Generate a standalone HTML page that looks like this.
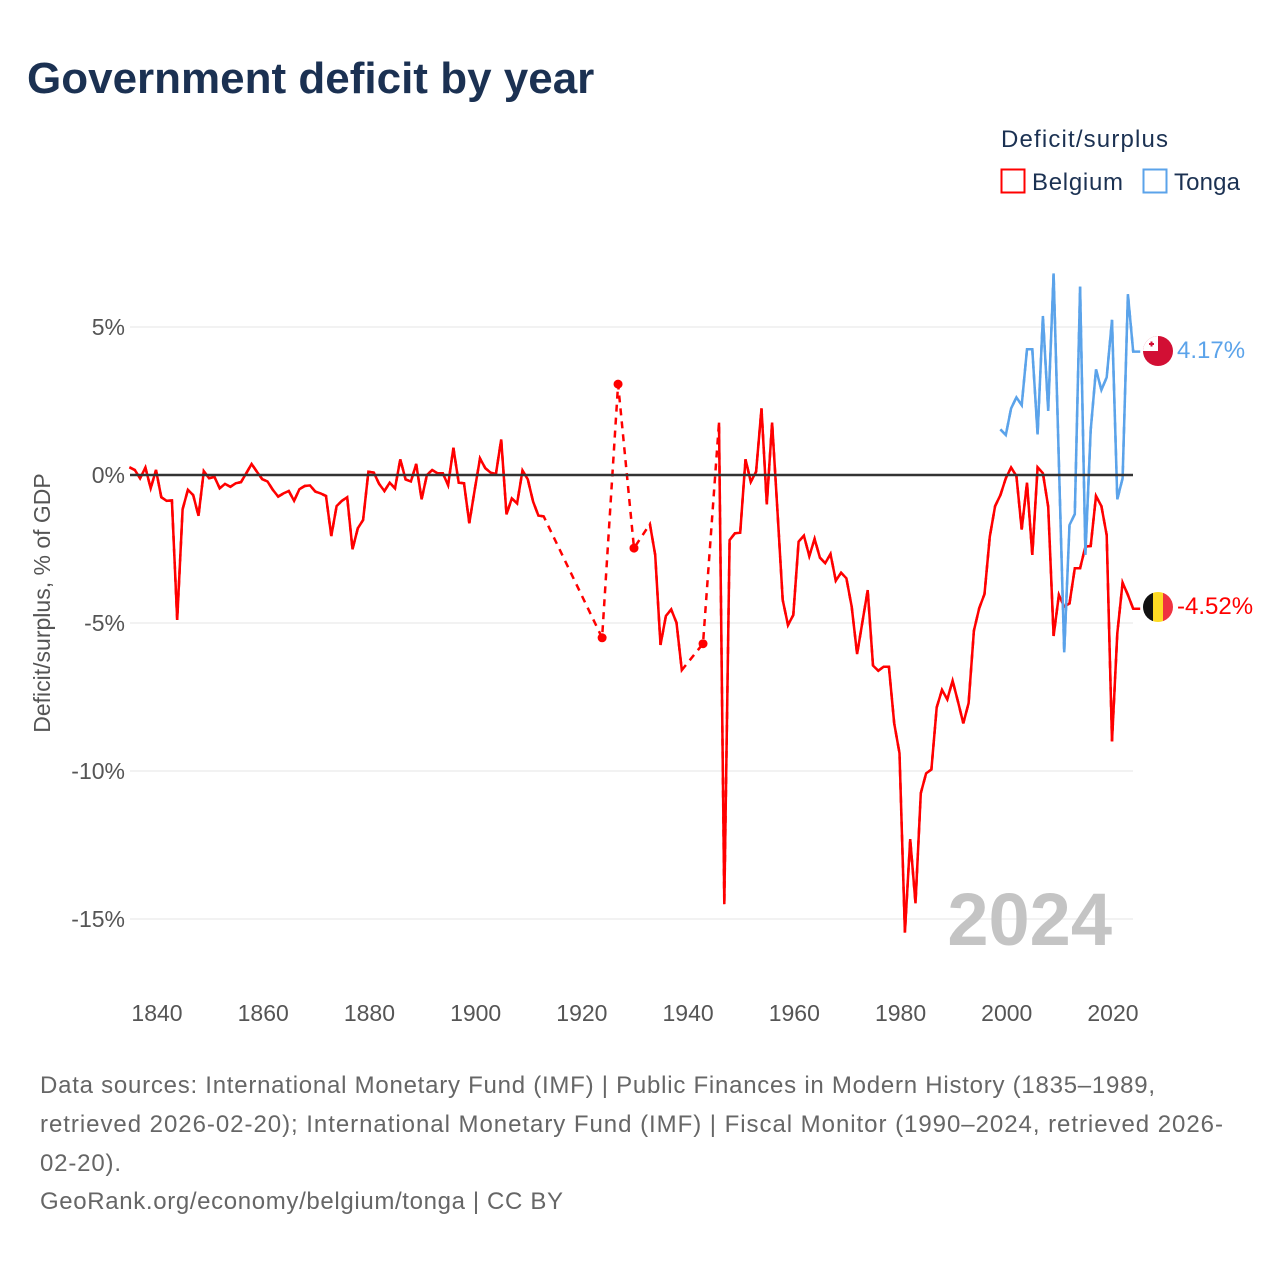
<!DOCTYPE html>
<html><head><meta charset="utf-8"><style>
body{margin:0;background:#fff;font-family:"Liberation Sans",sans-serif;}
svg{display:block}
</style></head><body>
<svg width="1280" height="1280" viewBox="0 0 1280 1280" xmlns="http://www.w3.org/2000/svg">
<text x="27" y="93" font-size="44" font-weight="bold" fill="#1b3152">Government deficit by year</text>
<g>
<text x="1001" y="147" font-size="24" fill="#1b3152" textLength="167" lengthAdjust="spacing">Deficit/surplus</text>
<g><rect x="1001.5" y="169.5" width="23" height="23" fill="#fff" stroke="#f00" stroke-width="2"/><text x="1032" y="190" font-size="24" fill="#1b3152" textLength="91" lengthAdjust="spacing">Belgium</text></g>
<g><rect x="1143.5" y="169.5" width="23" height="23" fill="#fff" stroke="#5ba3ea" stroke-width="2"/><text x="1174" y="190" font-size="24" fill="#1b3152" textLength="66" lengthAdjust="spacing">Tonga</text></g>
</g>
<g id="grid"></g>
<g id="yticks"></g>
<g id="xticks"></g>
<text transform="translate(50,603) rotate(-90)" text-anchor="middle" font-size="23" fill="#555">Deficit/surplus, % of GDP</text>
<text x="1112" y="945" text-anchor="end" font-size="74" font-weight="bold" fill="#c4c4c4">2024</text>
<g id="series"></g>
<g>
<circle cx="1158" cy="351" r="15" fill="#d20f34"/><rect x="1143" y="336" width="15" height="15" fill="#fff" clip-path="url(#cc)"/>
<clipPath id="cc"><circle cx="1158" cy="351" r="15"/></clipPath>
<rect x="1149" y="343" width="5" height="2" fill="#d20f34"/><rect x="1150.5" y="341.5" width="2" height="5" fill="#d20f34"/>
<text x="1177" y="358" font-size="24" fill="#5ba3ea">4.17%</text>
</g>
<g>
<clipPath id="cb"><circle cx="1158" cy="607" r="15"/></clipPath>
<g clip-path="url(#cb)"><rect x="1143" y="592" width="10" height="30" fill="#111"/><rect x="1153" y="592" width="10" height="30" fill="#fdda24"/><rect x="1163" y="592" width="10" height="30" fill="#ef3340"/></g>
<text x="1177" y="614" font-size="24" fill="#f00">-4.52%</text>
</g>
<g font-size="24" fill="#666">
<text x="40" y="1093" textLength="1115" lengthAdjust="spacing">Data sources: International Monetary Fund (IMF) | Public Finances in Modern History (1835–1989,</text>
<text x="40" y="1132" textLength="1183" lengthAdjust="spacing">retrieved 2026-02-20); International Monetary Fund (IMF) | Fiscal Monitor (1990–2024, retrieved 2026-</text>
<text x="40" y="1171" textLength="81" lengthAdjust="spacing">02-20).</text>
<text x="40" y="1209" textLength="523" lengthAdjust="spacing">GeoRank.org/economy/belgium/tonga | CC BY</text>
</g>
</svg>
<script>
const yTicks=[5,0,-5,-10,-15];
const yTickLabels=["5%","0%","-5%","-10%","-15%"];
const xTicks=[1840,1860,1880,1900,1920,1940,1960,1980,2000,2020];
const belgiumStart=1835;
const belgiumValues=[0.26,0.17,-0.11,0.25,-0.45,0.17,-0.75,-0.87,-0.86,-4.9,-1.16,-0.5,-0.68,-1.38,0.13,-0.11,-0.06,-0.45,-0.3,-0.4,-0.28,-0.24,0.06,0.37,0.11,-0.14,-0.22,-0.5,-0.73,-0.62,-0.54,-0.87,-0.48,-0.37,-0.35,-0.56,-0.62,-0.71,-2.06,-1.05,-0.87,-0.75,-2.51,-1.8,-1.52,0.11,0.08,-0.3,-0.54,-0.26,-0.45,0.53,-0.15,-0.22,0.37,-0.82,0,0.17,0.06,0.06,-0.34,0.92,-0.26,-0.28,-1.63,-0.5,0.56,0.23,0.08,0.03,1.2,-1.33,-0.79,-0.96,0.15,-0.15,-0.9,-1.37,-1.4,
null,null,null,null,null,null,null,null,null,null,-5.5,null,null,3.07,null,null,-2.47,null,null,
-1.66,-2.7,-5.74,-4.76,-4.54,-4.99,-6.59,null,null,null,-5.7,null,null,
1.77,-14.5,-2.2,-1.97,-1.95,0.53,-0.23,0.11,2.25,-0.99,1.77,-1.18,-4.22,-5.07,-4.73,-2.25,-2.05,-2.74,-2.16,-2.79,-2.98,-2.67,-3.57,
-3.3,-3.49,-4.45,-6.05,-4.97,-3.89,-6.44,-6.61,-6.48,-6.48,-8.39,-9.4,-15.46,-12.3,-14.47,-10.75,-10.08,-9.95,-7.85,-7.26,-7.58,-6.95,-7.66,-8.39,-7.71,-5.26,-4.5,-4.02,-2.08,-1.05,-0.68,-0.11,0.25,-0.03,-1.84,-0.26,-2.7,0.26,0.06,-1.07,-5.44,-4.05,-4.45,-4.34,-3.15,-3.15,-2.42,-2.4,-0.71,-1.05,-2.03,-9.0,-5.35,-3.64,-4.05,-4.52];
const tongaStart=1999;
const tongaValues=[1.54,1.35,2.25,2.62,2.36,4.25,4.25,1.37,5.37,2.17,6.81,0.4,-5.99,-1.69,-1.32,6.36,-2.7,1.52,3.57,2.87,3.3,5.24,-0.82,-0.11,6.11,4.17];

const NS="http://www.w3.org/2000/svg";
const X=yr=>156+(yr-1840)*5.311;
const Y=v=>475-v*29.6;
const PL=130,PR=1133;
function mk(tag,attrs,parent){const e=document.createElementNS(NS,tag);for(const k in attrs)e.setAttribute(k,attrs[k]);parent.appendChild(e);return e;}
const grid=document.getElementById('grid'),yt=document.getElementById('yticks'),xt=document.getElementById('xticks'),ser=document.getElementById('series');
yTicks.forEach((t,i)=>{
  if(t!==0){const l=mk('line',{x1:PL,x2:PR,y1:Y(t),y2:Y(t),stroke:'#e6e6e6','stroke-width':1},grid);
  
  }
  const tx=mk('text',{x:125,y:Y(t)+8,'text-anchor':'end','font-size':23,fill:'#555'},yt);
  tx.textContent=yTickLabels[i];
  
  
});
xTicks.forEach(t=>{
  const tx=mk('text',{x:X(t)+1,y:1021,'text-anchor':'middle','font-size':23,fill:'#555'},xt);
  tx.textContent=t;
  
  
});
function drawSeries(start,vals,color,name){
  const pts=[];vals.forEach((v,i)=>{if(v!==null&&v!==undefined)pts.push([start+i,v]);});
  const d=pts.map((p,i)=>(i?'L':'M')+X(p[0]).toFixed(1)+','+Y(p[1]).toFixed(1)).join('');
  const dash=mk('path',{d:d,fill:'none',stroke:color,'stroke-width':2.5,'stroke-dasharray':'7,6'},ser);
  
  
  let run=[];const runs=[];
  vals.forEach((v,i)=>{if(v===null){if(run.length)runs.push(run);run=[];}else run.push([start+i,v]);});
  if(run.length)runs.push(run);
  runs.forEach(r=>{
    if(r.length===1){const c=mk('circle',{cx:X(r[0][0]),cy:Y(r[0][1]),r:4.5,fill:color},ser);
      
      return;}
    const dd=r.map((p,i)=>(i?'L':'M')+X(p[0]).toFixed(1)+','+Y(p[1]).toFixed(1)).join('');
    const last=r[r.length-1];
    const extra=(last[0]===start+vals.length-1)?'L'+(X(last[0])+7).toFixed(1)+','+Y(last[1]).toFixed(1):'';
    const p=mk('path',{d:dd+extra,fill:'none',stroke:color,'stroke-width':2.5,'stroke-linejoin':'miter'},ser);
    
    
  });
}
const zl=mk('line',{x1:PL,x2:PR,y1:Y(0),y2:Y(0),stroke:'#333','stroke-width':2.5},ser);


drawSeries(belgiumStart,belgiumValues,'#ff0000','belgium');
drawSeries(tongaStart,tongaValues,'#5ba3ea','tonga');
ser.appendChild(zl);
</script>
</body></html>
